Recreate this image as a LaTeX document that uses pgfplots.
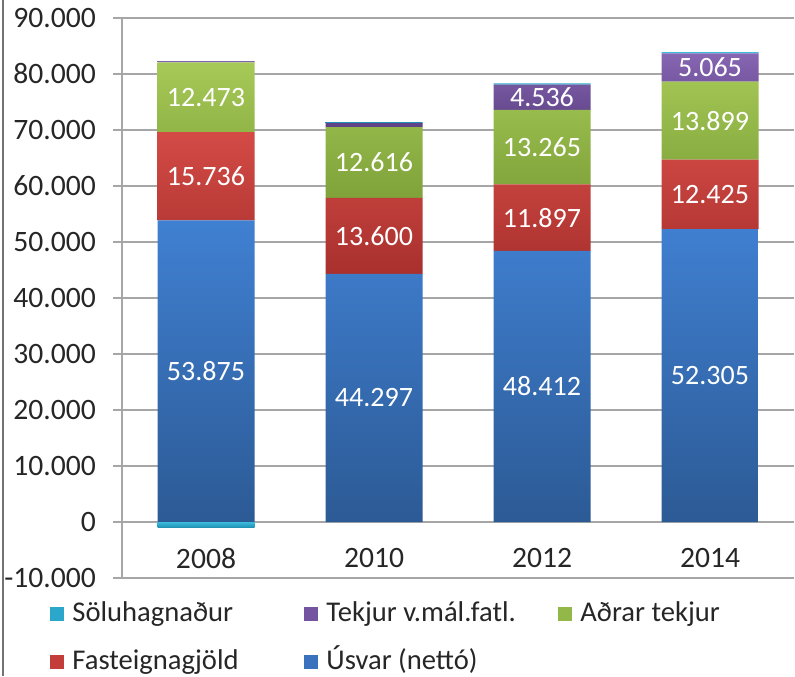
\documentclass[border=0pt]{standalone}
\usepackage{fontspec}
\setmainfont{Carlito}
\usepackage{pgfplots}
\usepackage{pgfplotstable}
\pgfplotsset{compat=1.18}
\definecolor{gridgray}{HTML}{A6A6A6}
\definecolor{txt}{HTML}{262626}
\definecolor{bTop}{HTML}{4080D2}\definecolor{bBot}{HTML}{2C5A95}\definecolor{bMid}{HTML}{3A72BE}
\definecolor{rTop}{HTML}{D44B46}\definecolor{rBot}{HTML}{A8302D}\definecolor{rMid}{HTML}{C33D3A}
\definecolor{gTop}{HTML}{A6C957}\definecolor{gBot}{HTML}{7FA23A}\definecolor{gMid}{HTML}{94B74A}
\definecolor{pTop}{HTML}{8766B3}\definecolor{pBot}{HTML}{5E4286}\definecolor{pMid}{HTML}{7454A0}
\definecolor{cTop}{HTML}{3CBCDD}\definecolor{cBot}{HTML}{1E8FB0}\definecolor{cMid}{HTML}{2AA7CB}
\pgfplotstableread{
x y label
0 26937.5 53.875
0 61743 15.736
0 75847.5 12.473
1 22148.5 44.297
1 51097 13.600
1 64205 12.616
2 24206 48.412
2 54360.5 11.897
2 66941.5 13.265
2 75842 4.536
3 26152.5 52.305
3 58517.5 12.425
3 71679.5 13.899
3 81161.5 5.065
}\labels
\begin{document}
\begin{tikzpicture}
\begin{axis}[
  name=main,
  scale only axis, width=336pt, height=280pt,
  xmin=-0.5, xmax=3.5, ymin=-10000, ymax=90000,
  ytick={-10000,0,...,90000},
  scaled y ticks=false,
  xtick={0,1,2,3}, xticklabels={2008,2010,2012,2014},
  ybar stacked, bar width=48.5pt,
  axis x line*=bottom, axis y line*=left,
  x axis line style={draw=none},
  y axis line style={draw=gridgray, line width=0.8pt},
  ymajorgrids, grid style={draw=gridgray, line width=0.7pt},
  major x tick style={draw=none},
  tick align=outside, major tick length=4.5pt,
  ytick style={draw=gridgray, line width=0.7pt},
  yticklabel style={font=\fontsize{14.8}{16}\selectfont, text=txt, xshift=-5pt},
  xticklabel style={font=\fontsize{14.8}{16}\selectfont, text=txt, anchor=center, yshift=14.5pt},
  /pgf/number format/1000 sep={.},
  /pgf/number format/assume math mode=true,
  legend columns=3,
  legend image code/.code={\fill[#1] (0pt,-3.5pt) rectangle (7pt,3.5pt);},
  legend style={at={(axis description cs:-0.1071,0)}, anchor=north west, yshift=-11.5pt,
    draw=none, fill=none, inner sep=0pt, font=\fontsize{14.3}{16}\selectfont, text=txt,
    row sep=11pt,
    /tikz/every odd column/.style={column sep=4pt},
    nodes={inner sep=0pt, text height=10pt, text depth=3pt}},
  legend cell align=left,
]
\addlegendimage{fill=cMid, draw=none}
\addlegendentry{\makebox[116pt][l]{Söluhagnaður}}
\addlegendimage{fill=pMid, draw=none}
\addlegendentry{\makebox[116pt][l]{Tekjur v.mál.fatl.}}
\addlegendimage{fill=gMid, draw=none}
\addlegendentry{\makebox[116pt][l]{Aðrar tekjur}}
\addlegendimage{fill=rMid, draw=none}
\addlegendentry{\makebox[116pt][l]{Fasteignagjöld}}
\addlegendimage{fill=bMid, draw=none}
\addlegendentry{\makebox[116pt][l]{Úsvar (nettó)}}
% negative Söluhagnaður (2008), stacked separately below zero
\addplot[forget plot, draw=none, top color=cTop, bottom color=cBot] coordinates {(0,-1000) (1,0) (2,0) (3,0)};
% Útsvar
\addplot[forget plot, draw=none, top color=bTop, bottom color=bBot] coordinates {(0,53875) (1,44297) (2,48412) (3,52305)};
% Fasteignagjöld
\addplot[forget plot, draw=none, top color=rTop, bottom color=rBot] coordinates {(0,15736) (1,13600) (2,11897) (3,12425)};
% Aðrar tekjur
\addplot[forget plot, draw=none, top color=gTop, bottom color=gBot] coordinates {(0,12473) (1,12616) (2,13265) (3,13899)};
% Tekjur v.mál.fatl.
\addplot[forget plot, draw=none, top color=pTop, bottom color=pBot] coordinates {(0,200) (1,700) (2,4536) (3,5065)};
% positive Söluhagnaður
\addplot[forget plot, draw=none, top color=cTop, bottom color=cBot] coordinates {(0,0) (1,200) (2,200) (3,200)};
\end{axis}
\begin{axis}[
  at={(main.south west)}, anchor=south west,
  scale only axis, width=336pt, height=280pt,
  xmin=-0.5, xmax=3.5, ymin=-10000, ymax=90000,
  hide axis,
]
\addplot[only marks, mark=none, draw=none,
  nodes near coords, point meta=explicit symbolic,
  every node near coord/.style={anchor=center, text=white, font=\fontsize{14}{16}\selectfont}]
  table[x=x, y=y, meta=label] {\labels};
\end{axis}
\draw[draw=gray!90!black, line width=1pt] (-59.5pt,-49pt) -- (-59.5pt,289pt);
\pgfresetboundingbox
\useasboundingbox (-61pt,-49pt) rectangle (336.5pt,289pt);
\end{tikzpicture}
\end{document}
